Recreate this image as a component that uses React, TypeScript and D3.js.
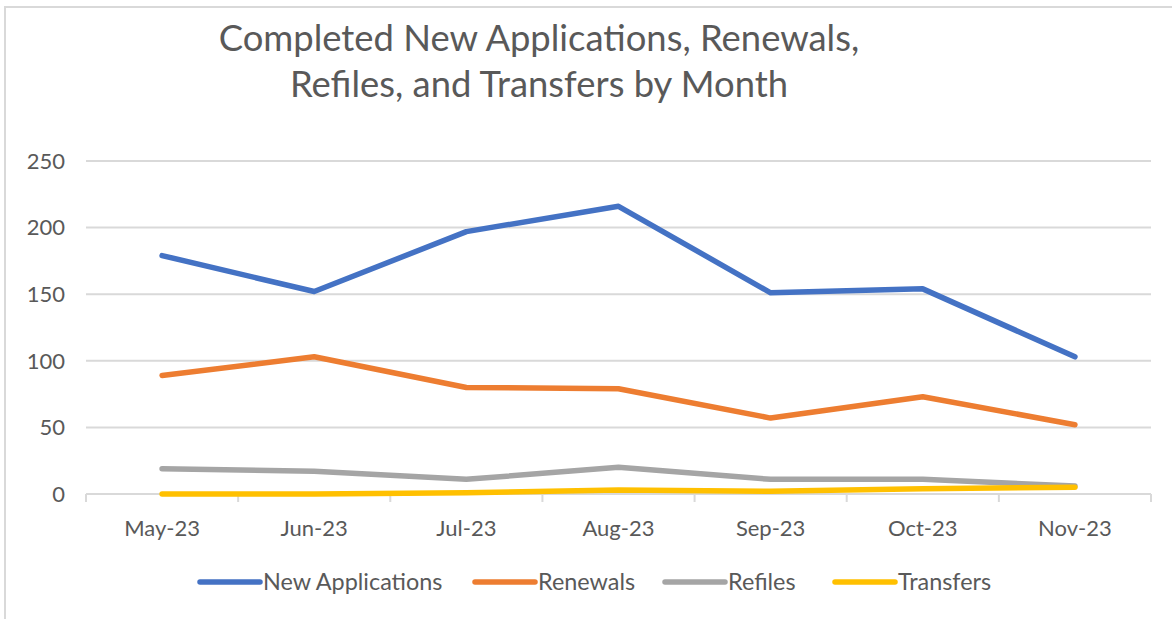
import React from "react";
import * as d3 from "d3";

const months = ["May-23", "Jun-23", "Jul-23", "Aug-23", "Sep-23", "Oct-23", "Nov-23"];
const newApplications = [179, 152, 197, 216, 151, 154, 103];
const renewals = [89, 103, 80, 79, 57, 73, 52];
const refiles = [19, 17, 11, 20, 11, 11, 6];
const transfers = [0, 0, 1, 3, 2, 4, 5];
const yTicks = [0, 50, 100, 150, 200, 250];
const titleLines = ["Completed New Applications, Renewals,", "Refiles, and Transfers by Month"];

const seriesNames = ["New Applications", "Renewals", "Refiles", "Transfers"];
const seriesColors = ["#4472C4", "#ED7D31", "#A5A5A5", "#FFC000"];
const seriesValues = [newApplications, renewals, refiles, transfers];

const W = 1172;
const H = 619;
const FONT = "Lato, 'Open Sans', sans-serif";
const TEXT = "#595959";

export default function App() {
  const x = d3.scaleBand<string>().domain(months).range([86, 1151]);
  const y = d3.scaleLinear().domain([0, 250]).range([494, 161]);
  const line = d3
    .line<number>()
    .x((_, i) => (x(months[i]) as number) + x.bandwidth() / 2)
    .y((d) => y(d));

  const tickXs = months.map((m) => x(m) as number).concat([x.range()[1]]);

  const legendItems = [
    { lx: 200, tx: 263 },
    { lx: 475, tx: 538 },
    { lx: 665, tx: 728 },
    { lx: 835, tx: 898 },
  ];

  return (
    <svg
      width={W}
      height={H}
      style={{ position: "absolute", left: 0, top: 0, background: "#fff" }}
      fontFamily={FONT}
    >
      <rect x={0} y={0} width={W} height={H} fill="#fff" />
      <rect x={5} y={7} width={W + 10} height={H + 10} fill="none" stroke="#D9D9D9" strokeWidth={2} />

      {titleLines.map((t, i) => (
        <text key={i} x={539} y={51 + i * 46} textAnchor="middle" fontSize={36.4} fill={TEXT}>
          {t}
        </text>
      ))}

      {yTicks.map((t) => (
        <g key={t}>
          <line x1={86} x2={1151} y1={y(t)} y2={y(t)} stroke="#D9D9D9" strokeWidth={2} />
          <text x={65} y={y(t)} dy="0.35em" textAnchor="end" fontSize={22} fill={TEXT}>
            {t}
          </text>
        </g>
      ))}

      {tickXs.map((tx, i) => (
        <line key={i} x1={tx} x2={tx} y1={y(0)} y2={y(0) + 8} stroke="#D9D9D9" strokeWidth={2} />
      ))}

      {months.map((m) => (
        <text
          key={m}
          x={(x(m) as number) + x.bandwidth() / 2}
          y={536}
          textAnchor="middle"
          fontSize={22}
          fill={TEXT}
        >
          {m}
        </text>
      ))}

      {seriesValues.map((vals, i) => (
        <path
          key={seriesNames[i]}
          d={line(vals) || ""}
          fill="none"
          stroke={seriesColors[i]}
          strokeWidth={5.5}
          strokeLinecap="round"
          strokeLinejoin="round"
        />
      ))}

      {seriesNames.map((n, i) => (
        <g key={n}>
          <line
            x1={legendItems[i].lx}
            x2={legendItems[i].lx + 60}
            y1={582}
            y2={582}
            stroke={seriesColors[i]}
            strokeWidth={5.5}
            strokeLinecap="round"
          />
          <text x={legendItems[i].tx} y={582} dy="0.35em" fontSize={23.4} fill={TEXT}>
            {n}
          </text>
        </g>
      ))}
    </svg>
  );
}
